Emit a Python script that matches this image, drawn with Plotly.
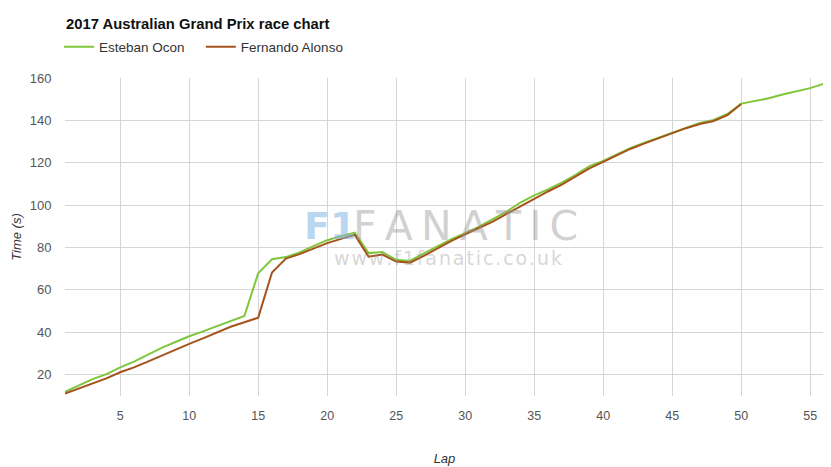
import plotly.graph_objects as go

laps_ocon = list(range(1, 57))
ocon = [11.8, 14.9, 17.8, 20.1, 23.3, 26.0, 29.4, 32.5, 35.3, 38.0,
        40.3, 42.8, 45.4, 47.6, 67.8, 74.4, 75.4, 77.6, 80.6, 83.4,
        85.3, 87.0, 77.3, 77.8, 74.1, 73.6, 77.2, 80.7, 83.9, 86.7,
        89.8, 93.3, 96.9, 101.2, 104.6, 107.4, 110.6, 114.3, 118.4, 120.8,
        123.9, 127.0, 129.5, 131.9, 134.3, 136.7, 138.8, 140.2, 143.0, 147.9,
        149.2, 150.4, 152.2, 153.8, 155.2, 157.3]

laps_alonso = list(range(1, 51))
alonso = [11.0, 13.4, 15.8, 18.1, 21.0, 23.3, 26.0, 28.8, 31.8, 34.4,
          37.0, 39.6, 42.5, 44.6, 46.8, 68.1, 74.7, 76.8, 79.3, 82.0,
          84.0, 85.9, 75.6, 76.6, 73.3, 72.8, 76.0, 79.6, 83.1, 86.2,
          89.1, 92.2, 95.8, 99.4, 103.2, 106.4, 109.6, 113.6, 117.3, 120.4,
          123.5, 126.6, 129.1, 131.5, 133.9, 136.3, 138.3, 139.7, 142.5, 147.7]

x_ticks = [5, 10, 15, 20, 25, 30, 35, 40, 45, 50, 55]
y_ticks = [20, 40, 60, 80, 100, 120, 140, 160]

title_text = "2017 Australian Grand Prix race chart"
names = ["Esteban Ocon", "Fernando Alonso"]
colors = ["#7fc63d", "#a5531b"]

# page offset (browser body margin)
OFF = 8
W, H = 831, 467
L, R, T, B = 57, 15, 70, 79
PW, PH = W - L - R, H - T - B


def px(sx):
    return (sx - OFF - L) / PW


def py(sy):
    return (H - B - (sy - OFF)) / PH


fig = go.Figure()
fig.add_trace(go.Scatter(x=laps_ocon, y=ocon, mode="lines",
                         name=names[0] + "\u00a0\u00a0\u00a0",
                         line=dict(color=colors[0], width=2)))
fig.add_trace(go.Scatter(x=laps_alonso, y=alonso, mode="lines", name=names[1],
                         line=dict(color=colors[1], width=2)))

font_main = "Liberation Sans"
fig.update_layout(
    width=W, height=H,
    paper_bgcolor="white", plot_bgcolor="white",
    margin=dict(l=L, r=R, t=T, b=B, autoexpand=False),
    legend=dict(orientation="h", x=px(59), xanchor="left", y=py(47),
                yanchor="middle",
                font=dict(family=font_main, size=13.5, color="#333"),
                tracegroupgap=0, itemclick=False, bgcolor="rgba(0,0,0,0)"),
    showlegend=True,
    font=dict(family=font_main, color="#666"),
)
fig.update_xaxes(range=[1, 56], tickvals=x_ticks, showgrid=True,
                 gridcolor="#d6d6d6", gridwidth=1, zeroline=False,
                 showline=False, ticks="outside", ticklen=8, tickcolor="white",
                 tickfont=dict(size=12.5, color="#555"),
                 title=dict(text="<i>Lap</i>", font=dict(size=13, color="#333"), standoff=31))
fig.update_yaxes(range=[9.8, 160], tickvals=y_ticks, showgrid=True,
                 gridcolor="#d6d6d6", gridwidth=1, zeroline=False,
                 showline=False, ticks="outside", ticklen=10, tickcolor="white",
                 tickfont=dict(size=13, color="#555"),
                 title=dict(text="<i>Time (s)</i>", font=dict(size=13, color="#333"), standoff=5))

# title
fig.add_annotation(xref="paper", yref="paper", x=px(64), y=py(24),
                   xanchor="left", yanchor="middle", showarrow=False,
                   text="<b>" + title_text + "</b>",
                   font=dict(family=font_main, size=14.8, color="#111"))

# watermark
ts = "\u2009"
fig.add_annotation(xref="paper", yref="paper", x=px(303), y=py(226),
                   xanchor="left", yanchor="middle", showarrow=False, borderpad=0,
                   text="<b>F1</b>", font=dict(family="DejaVu Sans", size=38, color="rgba(120,175,225,0.5)"))
fig.add_annotation(xref="paper", yref="paper", x=px(352), y=py(226),
                   xanchor="left", yanchor="middle", showarrow=False, borderpad=0,
                   text=ts.join("FANATIC"), font=dict(family="DejaVu Sans", size=41, color="rgba(150,150,150,0.45)"))
fig.add_annotation(xref="paper", yref="paper", x=px(333), y=py(258),
                   xanchor="left", yanchor="middle", showarrow=False, borderpad=0,
                   text="\u200a".join("www.f1fanatic.co.uk"),
                   font=dict(family="DejaVu Sans", size=19, color="rgba(150,150,150,0.4)"))

fig.write_html("out.html")
